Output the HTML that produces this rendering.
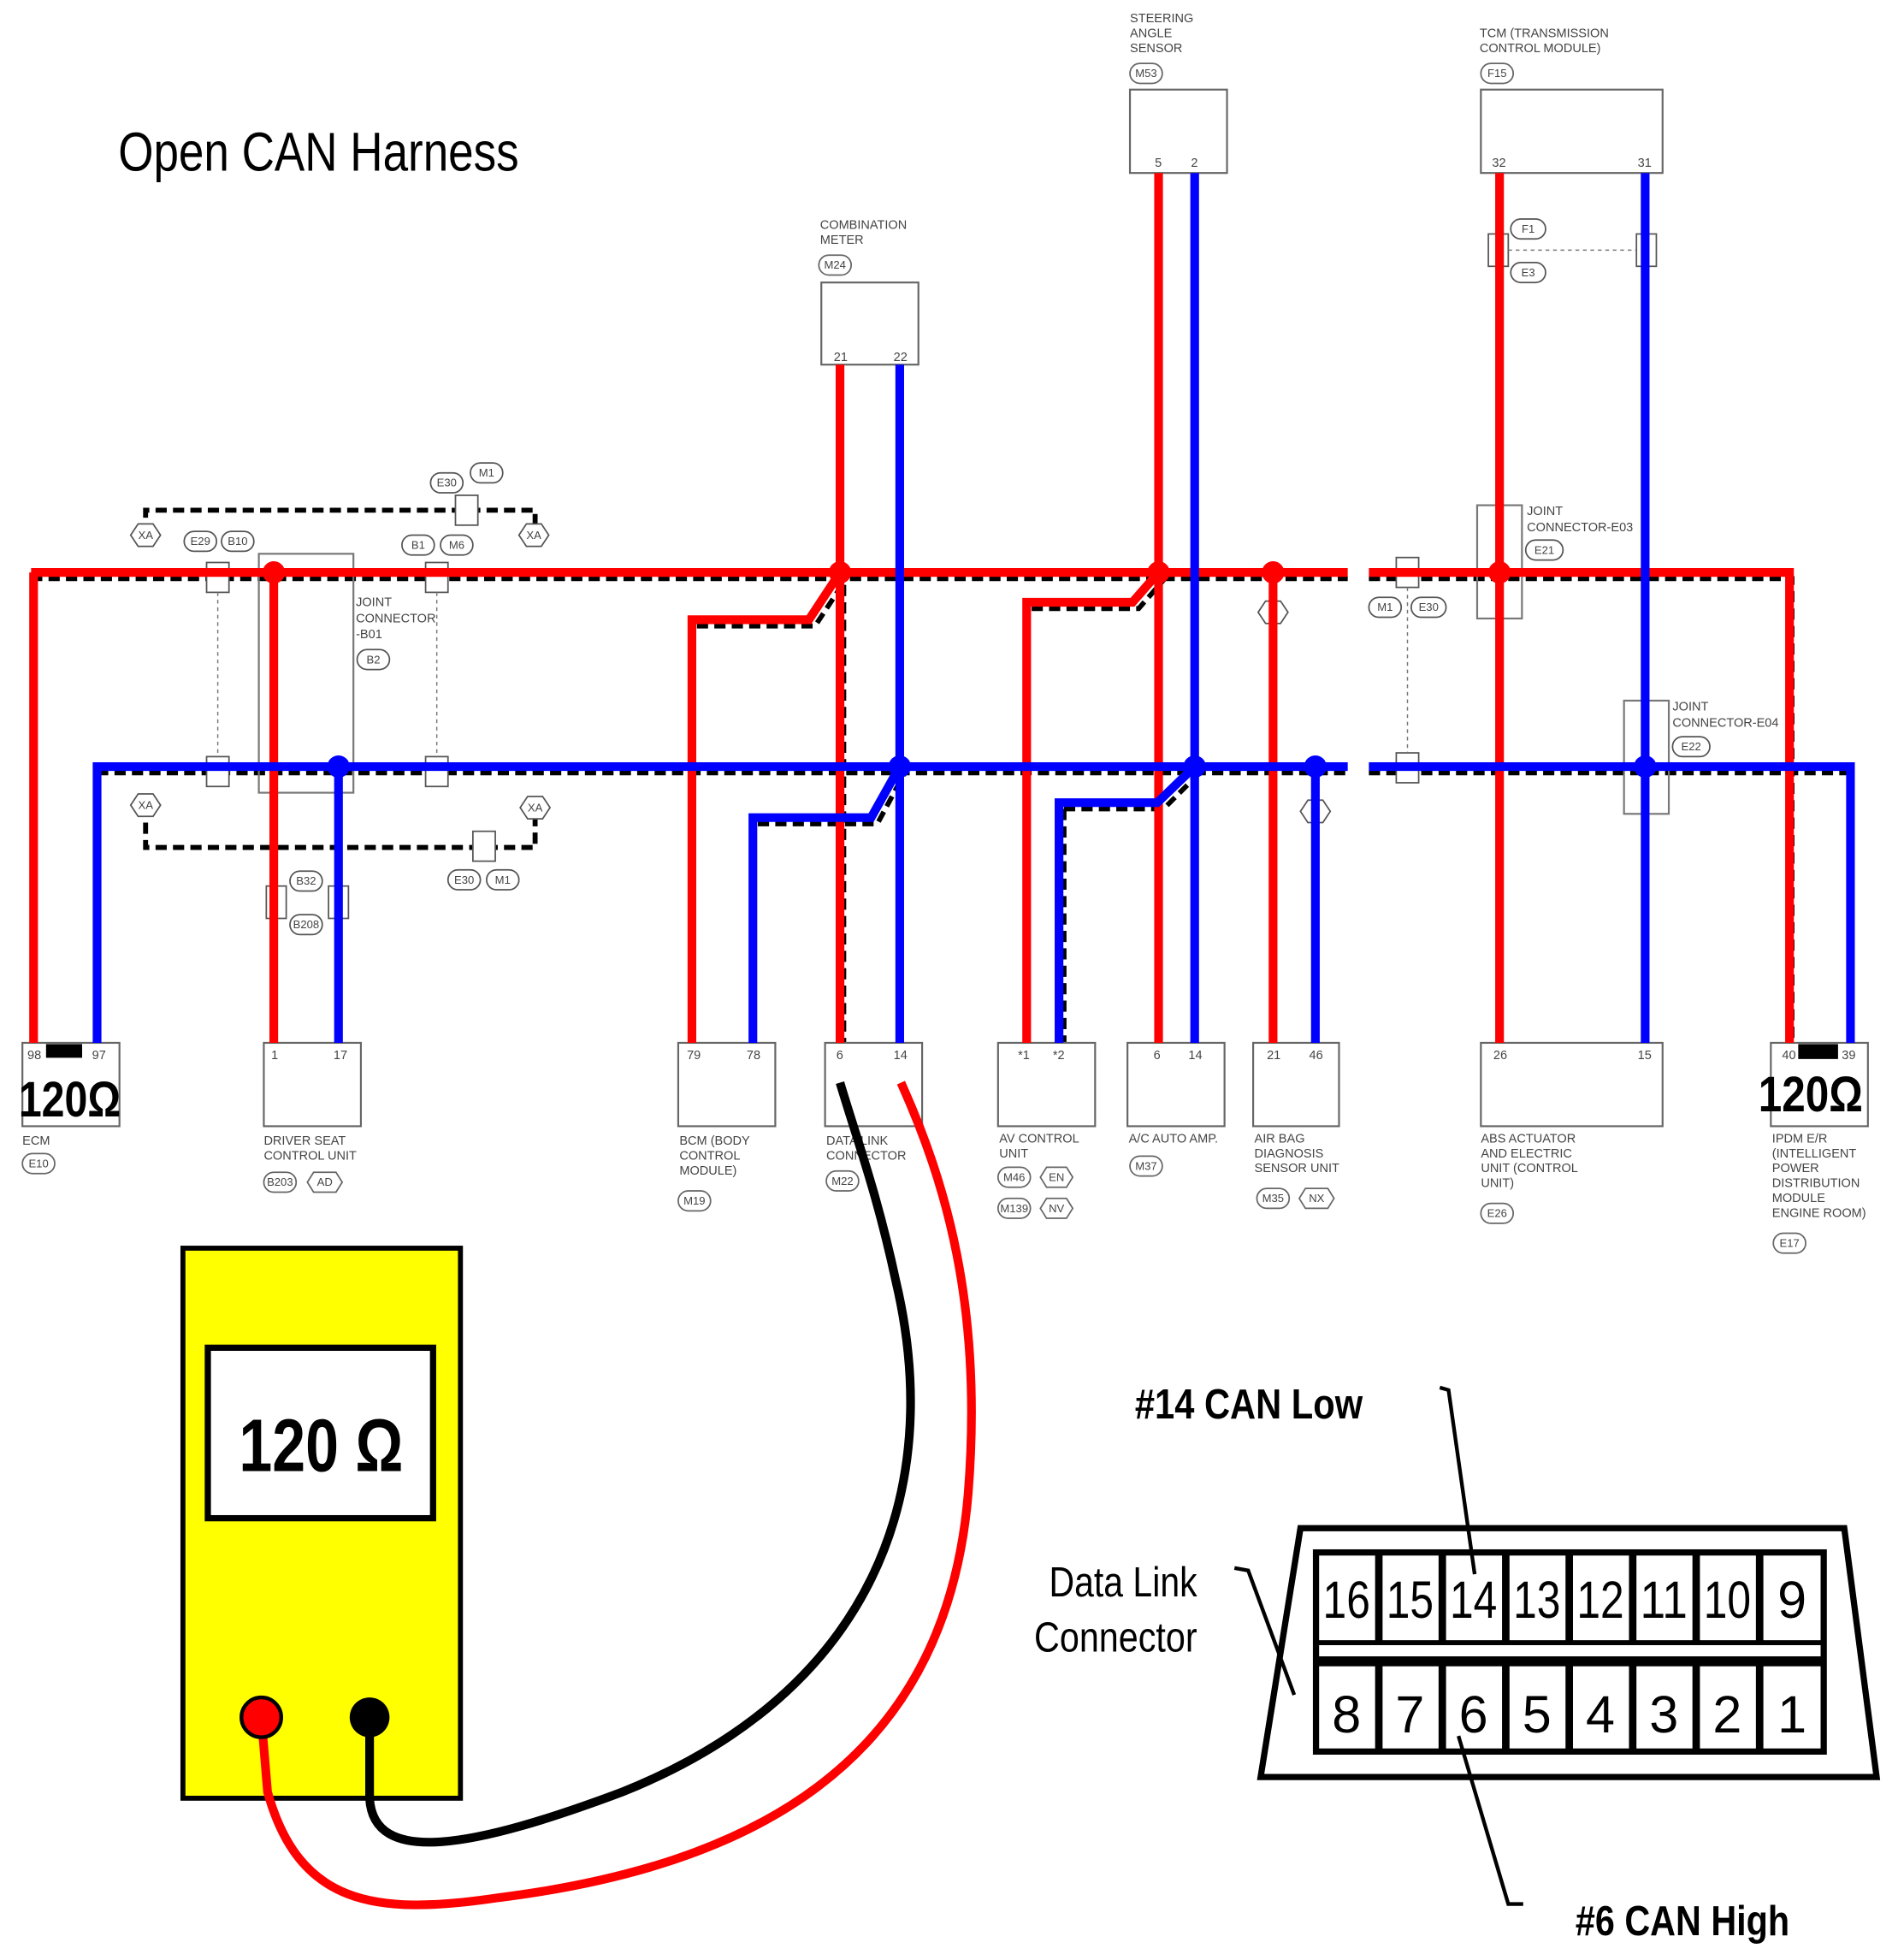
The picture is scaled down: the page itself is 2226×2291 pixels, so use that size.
<!DOCTYPE html>
<html><head><meta charset="utf-8"><style>html,body{margin:0;padding:0;background:#fff}svg{display:block}</style></head>
<body>
<svg xmlns="http://www.w3.org/2000/svg" width="2226" height="2291" viewBox="0 0 1530 1575" preserveAspectRatio="none" font-family="Liberation Sans, sans-serif">
<rect width="1530" height="1575" fill="#fff"/>
<text x="95" y="137" font-size="44" textLength="322" lengthAdjust="spacingAndGlyphs">Open CAN Harness</text>

<!-- shield loops -->
<g fill="none" stroke="#000" stroke-width="4" stroke-dasharray="9,5">
<path d="M117,430 V410 H430 V430"/>
<path d="M117,647 V681 H430 V649"/>
<path d="M25,465 H1083 M1100,465 H1440 V838"/>
<path d="M78,621 H1083 M1100,621 H1487"/>
<path d="M560,503 H655 L680,465"/>
<path d="M609,662 H705 L727,621"/>
<path d="M829,489 H915 L936,465"/>
<path d="M855,650 H935 L964,621 M855,650 V838"/>
<path d="M678,470 V838"/>
</g>
<g fill="#fff" stroke="#555" stroke-width="1.2" font-size="9" text-anchor="middle">
<polygon points="105,430 111,421 123,421 129,430 123,439 111,439"/><text x="117" y="433" stroke="none" fill="#444">XA</text>
<polygon points="417,430 423,421 435,421 441,430 435,439 423,439"/><text x="429" y="433" stroke="none" fill="#444">XA</text>
<polygon points="105,647 111,638 123,638 129,647 123,656 111,656"/><text x="117" y="650" stroke="none" fill="#444">XA</text>
<polygon points="418,649 424,640 436,640 442,649 436,658 424,658"/><text x="430" y="652" stroke="none" fill="#444">XA</text>
<rect x="366" y="398" width="18" height="24"/><rect x="380" y="668" width="18" height="24"/>
<rect x="346" y="380" width="26" height="16" rx="8"/><text x="359" y="391" stroke="none" fill="#444">E30</text>
<rect x="378" y="372" width="26" height="16" rx="8"/><text x="391" y="383" stroke="none" fill="#444">M1</text>
<rect x="148" y="427" width="26" height="16" rx="8"/><text x="161" y="438" stroke="none" fill="#444">E29</text>
<rect x="178" y="427" width="26" height="16" rx="8"/><text x="191" y="438" stroke="none" fill="#444">B10</text>
<rect x="323" y="430" width="26" height="16" rx="8"/><text x="336" y="441" stroke="none" fill="#444">B1</text>
<rect x="354" y="430" width="26" height="16" rx="8"/><text x="367" y="441" stroke="none" fill="#444">M6</text>
<rect x="360" y="699" width="26" height="16" rx="8"/><text x="373" y="710" stroke="none" fill="#444">E30</text>
<rect x="391" y="699" width="26" height="16" rx="8"/><text x="404" y="710" stroke="none" fill="#444">M1</text>
<rect x="233" y="700" width="26" height="16" rx="8"/><text x="246" y="711" stroke="none" fill="#444">B32</text>
<rect x="233" y="735" width="26" height="16" rx="8"/><text x="246" y="746" stroke="none" fill="#444">B208</text>
<rect x="214" y="712" width="16" height="26"/><rect x="264" y="712" width="16" height="26"/>
<rect x="287" y="522" width="26" height="16" rx="8"/><text x="300" y="533" stroke="none" fill="#444">B2</text>
<rect x="166" y="452" width="18" height="24"/><rect x="342" y="452" width="18" height="24"/>
<rect x="166" y="608" width="18" height="24"/><rect x="342" y="608" width="18" height="24"/>
<rect x="1214" y="176" width="28" height="16" rx="8"/><text x="1228" y="187" stroke="none" fill="#444">F1</text>
<rect x="1214" y="211" width="28" height="16" rx="8"/><text x="1228" y="222" stroke="none" fill="#444">E3</text>
<rect x="1196" y="188" width="16" height="26"/><rect x="1315" y="188" width="16" height="26"/>
<rect x="1100" y="480" width="26" height="16" rx="8"/><text x="1113" y="491" stroke="none" fill="#444">M1</text>
<rect x="1134" y="480" width="28" height="16" rx="8"/><text x="1148" y="491" stroke="none" fill="#444">E30</text>
<rect x="1122" y="448" width="18" height="24"/><rect x="1122" y="605" width="18" height="24"/>
<polygon points="1011,492 1017,483 1029,483 1035,492 1029,501 1017,501"/>
<polygon points="1045,652 1051,643 1063,643 1069,652 1063,661 1051,661"/>
<rect x="1226" y="434" width="30" height="16" rx="8"/><text x="1241" y="445" stroke="none" fill="#444">E21</text>
<rect x="1344" y="592" width="30" height="16" rx="8"/><text x="1359" y="603" stroke="none" fill="#444">E22</text>
</g>
<line x1="175" y1="476" x2="175" y2="608" stroke="#777" stroke-dasharray="3,3"/>
<line x1="351" y1="476" x2="351" y2="608" stroke="#777" stroke-dasharray="3,3"/>
<line x1="1131" y1="472" x2="1131" y2="605" stroke="#777" stroke-dasharray="3,3"/>
<line x1="1212" y1="201" x2="1315" y2="201" stroke="#777" stroke-dasharray="3,3"/>

<!-- joint boxes -->
<g fill="none" stroke="#777" stroke-width="1.5">
<rect x="208" y="445" width="76" height="192"/>
<rect x="1187" y="406" width="36" height="91"/>
<rect x="1305" y="563" width="36" height="91"/>
</g>

<!-- component boxes -->
<g fill="#fff" stroke="#666" stroke-width="1.5">
<rect x="660" y="227" width="78" height="66"/>
<rect x="908" y="72" width="78" height="67"/>
<rect x="1190" y="72" width="146" height="67"/>
<rect x="18" y="838" width="78" height="67"/>
<rect x="212" y="838" width="78" height="67"/>
<rect x="545" y="838" width="78" height="67"/>
<rect x="663" y="838" width="78" height="67"/>
<rect x="802" y="838" width="78" height="67"/>
<rect x="906" y="838" width="78" height="67"/>
<rect x="1007" y="838" width="69" height="67"/>
<rect x="1190" y="838" width="146" height="67"/>
<rect x="1423" y="838" width="78" height="67"/>
</g>

<!-- wires -->
<g fill="none" stroke-width="7" stroke-linejoin="miter">
<g stroke="#f00">
<path d="M25,460 H1083 M1100,460 H1438 V838"/>
<path d="M27,460 V838"/>
<path d="M220,460 V838"/>
<path d="M675,293 V838"/>
<path d="M556,838 V498 H650 L675,460"/>
<path d="M931,139 V838"/>
<path d="M825,838 V484 H910 L931,460"/>
<path d="M1023,460 V838"/>
<path d="M1205,139 V838"/>
</g>
<g stroke="#00f">
<path d="M78,838 V616 H1083 M1100,616 H1487 V838"/>
<path d="M272,616 V838"/>
<path d="M723,293 V838"/>
<path d="M605,838 V657 H700 L723,616"/>
<path d="M960,139 V838"/>
<path d="M851,838 V645 H930 L960,616"/>
<path d="M1057,616 V838"/>
<path d="M1322,139 V838"/>
</g>
</g>
<g fill="#f00"><circle cx="220" cy="460" r="9"/><circle cx="675" cy="460" r="9"/><circle cx="931" cy="460" r="9"/><circle cx="1023" cy="460" r="9"/><circle cx="1205" cy="460" r="9"/></g>
<g fill="#00f"><circle cx="272" cy="616" r="9"/><circle cx="723" cy="616" r="9"/><circle cx="960" cy="616" r="9"/><circle cx="1057" cy="616" r="9"/><circle cx="1322" cy="616" r="9"/></g>

<!-- small labels -->
<g font-size="10" fill="#444">
<text x="659" y="184">COMBINATION</text><text x="659" y="196">METER</text>
<text x="908" y="18">STEERING</text><text x="908" y="30">ANGLE</text><text x="908" y="42">SENSOR</text>
<text x="1189" y="30">TCM (TRANSMISSION</text><text x="1189" y="42">CONTROL MODULE)</text>
<text x="286" y="487">JOINT</text><text x="286" y="500">CONNECTOR</text><text x="286" y="513">-B01</text>
<text x="1227" y="414">JOINT</text><text x="1227" y="427">CONNECTOR-E03</text>
<text x="1344" y="571">JOINT</text><text x="1344" y="584">CONNECTOR-E04</text>
<text x="18" y="920">ECM</text>
<text x="212" y="920">DRIVER SEAT</text><text x="212" y="932">CONTROL UNIT</text>
<text x="546" y="920">BCM (BODY</text><text x="546" y="932">CONTROL</text><text x="546" y="944">MODULE)</text>
<text x="664" y="920">DATA LINK</text><text x="664" y="932">CONNECTOR</text>
<text x="803" y="918">AV CONTROL</text><text x="803" y="930">UNIT</text>
<text x="907" y="918">A/C AUTO AMP.</text>
<text x="1008" y="918">AIR BAG</text><text x="1008" y="930">DIAGNOSIS</text><text x="1008" y="942">SENSOR UNIT</text>
<text x="1190" y="918">ABS ACTUATOR</text><text x="1190" y="930">AND ELECTRIC</text><text x="1190" y="942">UNIT (CONTROL</text><text x="1190" y="954">UNIT)</text>
<text x="1424" y="918">IPDM E/R</text><text x="1424" y="930">(INTELLIGENT</text><text x="1424" y="942">POWER</text><text x="1424" y="954">DISTRIBUTION</text><text x="1424" y="966">MODULE</text><text x="1424" y="978">ENGINE ROOM)</text>
<text x="22" y="851">98</text><text x="74" y="851">97</text><text x="218" y="851">1</text><text x="268" y="851">17</text>
<text x="552" y="851">79</text><text x="600" y="851">78</text><text x="672" y="851">6</text><text x="718" y="851">14</text>
<text x="818" y="851">*1</text><text x="846" y="851">*2</text><text x="927" y="851">6</text><text x="955" y="851">14</text>
<text x="1018" y="851">21</text><text x="1052" y="851">46</text><text x="1200" y="851">26</text><text x="1316" y="851">15</text>
<text x="1432" y="851">40</text><text x="1480" y="851">39</text>
<text x="928" y="134">5</text><text x="957" y="134">2</text><text x="1199" y="134">32</text><text x="1316" y="134">31</text>
<text x="670" y="290">21</text><text x="718" y="290">22</text>
</g>
<g fill="#fff" stroke="#666" stroke-width="1.2" font-size="9" text-anchor="middle">
<rect x="658" y="205" width="26" height="16" rx="8"/><rect x="908" y="51" width="26" height="16" rx="8"/><rect x="1190" y="51" width="26" height="16" rx="8"/>
<rect x="18" y="927" width="26" height="16" rx="8"/><rect x="212" y="942" width="26" height="16" rx="8"/><rect x="545" y="957" width="26" height="16" rx="8"/>
<rect x="664" y="941" width="26" height="16" rx="8"/><rect x="802" y="938" width="26" height="16" rx="8"/><rect x="802" y="963" width="26" height="16" rx="8"/>
<rect x="908" y="929" width="26" height="16" rx="8"/><rect x="1010" y="955" width="26" height="16" rx="8"/><rect x="1190" y="967" width="26" height="16" rx="8"/><rect x="1425" y="991" width="26" height="16" rx="8"/>
<polygon points="247,950 252,942 270,942 275,950 270,958 252,958"/>
<polygon points="836,946 841,938 857,938 862,946 857,954 841,954"/>
<polygon points="836,971 841,963 857,963 862,971 857,979 841,979"/>
<polygon points="1044,963 1049,955 1067,955 1072,963 1067,971 1049,971"/>
</g>
<g font-size="9" fill="#444" text-anchor="middle">
<text x="671" y="216">M24</text><text x="921" y="62">M53</text><text x="1203" y="62">F15</text><text x="31" y="938">E10</text>
<text x="225" y="953">B203</text><text x="261" y="953">AD</text><text x="558" y="968">M19</text><text x="677" y="952">M22</text>
<text x="815" y="949">M46</text><text x="849" y="949">EN</text><text x="815" y="974">M139</text><text x="849" y="974">NV</text>
<text x="921" y="940">M37</text><text x="1023" y="966">M35</text><text x="1058" y="966">NX</text><text x="1203" y="978">E26</text><text x="1438" y="1002">E17</text>
</g>

<!-- 120 ohm labels -->
<rect x="37" y="839" width="29" height="11" fill="#000"/>
<rect x="1445" y="839" width="32" height="12" fill="#000"/>
<text x="15" y="897" font-size="40" font-weight="bold" textLength="82" lengthAdjust="spacingAndGlyphs">120Ω</text>
<text x="1413" y="893" font-size="40" font-weight="bold" textLength="84" lengthAdjust="spacingAndGlyphs">120Ω</text>

<!-- meter -->
<rect x="147" y="1003" width="223" height="442" fill="#ff0" stroke="#000" stroke-width="4"/>
<rect x="167" y="1083" width="181" height="137" fill="#fff" stroke="#000" stroke-width="5"/>
<text x="258" y="1182" font-size="60" font-weight="bold" text-anchor="middle" textLength="132" lengthAdjust="spacingAndGlyphs">120 Ω</text>
<path d="M297,1380 L297,1445 C300,1500 380,1485 500,1440 C700,1360 760,1200 720,1030 C705,960 690,920 675,870" fill="none" stroke="#000" stroke-width="7"/>
<path d="M210,1380 L215,1440 C240,1530 300,1540 400,1525 C600,1500 760,1420 778,1200 C790,1050 760,950 724,870" fill="none" stroke="#f00" stroke-width="7"/>
<circle cx="210" cy="1380" r="16" fill="#f00" stroke="#000" stroke-width="3"/>
<circle cx="297" cy="1380" r="16" fill="#000"/>

<!-- OBD connector -->
<polygon points="1045,1228 1482,1228 1508,1428 1013,1428" fill="#fff" stroke="#000" stroke-width="5"/>
<rect x="1055" y="1245" width="413" height="165" fill="#000"/>
<rect x="1060" y="1322" width="403" height="9" fill="#fff"/>
<g fill="#fff">
<rect x="1060" y="1250" width="45" height="68"/><rect x="1111" y="1250" width="45" height="68"/><rect x="1162" y="1250" width="45" height="68"/><rect x="1213" y="1250" width="45" height="68"/><rect x="1264" y="1250" width="45" height="68"/><rect x="1315" y="1250" width="45" height="68"/><rect x="1366" y="1250" width="45" height="68"/><rect x="1417" y="1250" width="46" height="68"/>
<rect x="1060" y="1339" width="45" height="66"/><rect x="1111" y="1339" width="45" height="66"/><rect x="1162" y="1339" width="45" height="66"/><rect x="1213" y="1339" width="45" height="66"/><rect x="1264" y="1339" width="45" height="66"/><rect x="1315" y="1339" width="45" height="66"/><rect x="1366" y="1339" width="45" height="66"/><rect x="1417" y="1339" width="46" height="66"/>
</g>
<g font-size="42" text-anchor="middle" fill="#000">
<text x="1082" y="1300" textLength="38" lengthAdjust="spacingAndGlyphs">16</text><text x="1133" y="1300" textLength="38" lengthAdjust="spacingAndGlyphs">15</text><text x="1184" y="1300" textLength="38" lengthAdjust="spacingAndGlyphs">14</text><text x="1235" y="1300" textLength="38" lengthAdjust="spacingAndGlyphs">13</text><text x="1286" y="1300" textLength="38" lengthAdjust="spacingAndGlyphs">12</text><text x="1337" y="1300" textLength="38" lengthAdjust="spacingAndGlyphs">11</text><text x="1388" y="1300" textLength="38" lengthAdjust="spacingAndGlyphs">10</text><text x="1440" y="1300">9</text>
<text x="1082" y="1392">8</text><text x="1133" y="1392">7</text><text x="1184" y="1392">6</text><text x="1235" y="1392">5</text><text x="1286" y="1392">4</text><text x="1337" y="1392">3</text><text x="1388" y="1392">2</text><text x="1440" y="1392">1</text>
</g>
<g fill="none" stroke="#000" stroke-width="3">
<path d="M1157,1115 L1164,1117 L1185,1265"/>
<path d="M992,1260 L1003,1262 L1040,1362"/>
<path d="M1172,1395 L1212,1530 L1224,1530"/>
</g>
<text x="912" y="1140" font-size="34" font-weight="bold" textLength="183" lengthAdjust="spacingAndGlyphs">#14 CAN Low</text>
<text x="843" y="1283" font-size="34" textLength="119" lengthAdjust="spacingAndGlyphs">Data Link</text>
<text x="831" y="1327" font-size="34" textLength="131" lengthAdjust="spacingAndGlyphs">Connector</text>
<text x="1266" y="1555" font-size="34" font-weight="bold" textLength="172" lengthAdjust="spacingAndGlyphs">#6 CAN High</text>
</svg>
</body></html>
